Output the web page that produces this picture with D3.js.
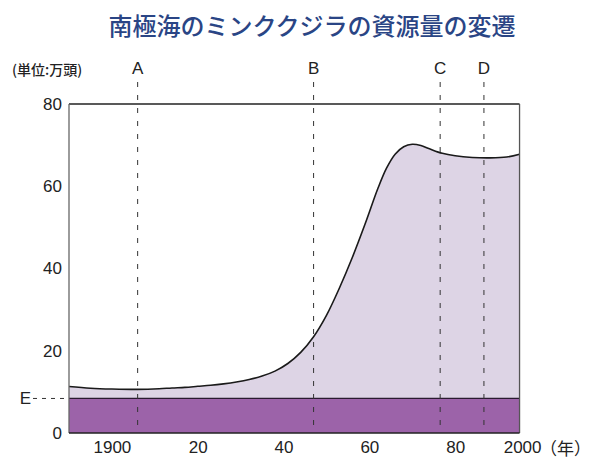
<!DOCTYPE html>
<html>
<head>
<meta charset="utf-8">
<script src="https://cdn.jsdelivr.net/npm/d3@7"></script>
<style>
  html, body { margin: 0; padding: 0; background: #fff; }
  svg { display: block; }
  text { font-family: "Liberation Sans", "Noto Sans", sans-serif; fill: #222; }
  .jp { font-family: "Noto Sans CJK JP", "Noto Sans", sans-serif; }
</style>
</head>
<body>
<svg id="chart" width="601" height="459"></svg>
<script>
// Minke whale stock in the Southern Ocean (10,000 head)
const years  = [1890, 1895, 1900, 1906, 1911, 1914, 1917, 1920, 1923, 1926, 1929, 1932, 1935, 1938, 1941, 1944, 1947, 1950, 1953, 1956, 1959, 1962, 1964, 1966, 1968, 1970, 1972, 1974, 1977, 1980, 1984, 1988, 1992, 1995];
const stock  = [11.3, 10.9, 10.7, 10.6, 10.75, 10.95, 11.1, 11.35, 11.6, 11.95, 12.4, 13.0, 13.85, 15.05, 16.9, 19.6, 23.4, 28.6, 35.2, 42.6, 50.8, 59.5, 64.4, 67.8, 69.6, 70.2, 69.9, 69.1, 68.0, 67.4, 67.0, 66.9, 67.1, 67.8];

// Reference level E
const levelE = 8.4;

// Marked years
const markerLabels = ["A", "B", "C", "D"];
const markerYears  = [1906, 1947, 1976.5, 1986.7];

// Axis ticks
const yTicks = [0, 20, 40, 60, 80];
const xTicks = [1900, 1920, 1940, 1960, 1980, 2000];
const xTickLabels = ["1900", "20", "40", "60", "80", "2000"];

const title = "南極海のミンククジラの資源量の変遷";
const unitLabel = "(単位:万頭)";
const yearUnit = "（年）";

const svg = d3.select("#chart");

const plotLeft = 69, plotTop = 104, plotBottom = 433;
const x = d3.scaleLinear().domain([1890, 2000]).range([plotLeft, 541]);
const y = d3.scaleLinear().domain([0, 80]).range([plotBottom, plotTop]);
const xEnd = x(1995);

// Title
svg.append("text")
  .attr("class", "jp")
  .attr("x", 312).attr("y", 35)
  .attr("text-anchor", "middle")
  .attr("font-size", 24)
  .attr("font-weight", 500)
  .style("fill", "#2a4585")
  .text(title);

// Unit label
svg.append("text")
  .attr("class", "jp")
  .attr("x", 12).attr("y", 75)
  .attr("font-size", 14)
  .attr("font-weight", 500)
  .text(unitLabel);

svg.append("defs").append("clipPath").attr("id", "plot")
  .append("rect")
  .attr("x", plotLeft).attr("y", plotTop)
  .attr("width", xEnd - plotLeft).attr("height", plotBottom - plotTop);

const data = years.map((yr, i) => ({ yr, v: stock[i] }));

// Stock area
const area = d3.area()
  .x(d => x(d.yr))
  .y0(y(0))
  .y1(d => y(d.v))
  .curve(d3.curveCatmullRom.alpha(0.5));

const line = d3.line()
  .x(d => x(d.yr))
  .y(d => y(d.v))
  .curve(d3.curveCatmullRom.alpha(0.5));

const g = svg.append("g").attr("clip-path", "url(#plot)");

g.append("path")
  .datum(data)
  .attr("d", area)
  .attr("fill", "#ddd4e5");

// Band below level E
g.append("rect")
  .attr("x", plotLeft).attr("y", y(levelE))
  .attr("width", xEnd - plotLeft).attr("height", y(0) - y(levelE))
  .attr("fill", "#9c63a9");

svg.append("path")
  .datum(data)
  .attr("d", line)
  .attr("fill", "none")
  .attr("stroke", "#1a1a1a")
  .attr("stroke-width", 1.6);

// Level E line and its dashed lead-in
svg.append("line")
  .attr("x1", plotLeft).attr("x2", xEnd)
  .attr("y1", y(levelE)).attr("y2", y(levelE))
  .attr("stroke", "#2a1a30").attr("stroke-width", 1.2);
svg.append("line")
  .attr("x1", 33).attr("x2", plotLeft)
  .attr("y1", y(levelE)).attr("y2", y(levelE))
  .attr("stroke", "#333").attr("stroke-width", 1)
  .attr("stroke-dasharray", "4,5");
svg.append("text")
  .attr("x", 31).attr("y", y(levelE) + 6)
  .attr("text-anchor", "end")
  .attr("font-size", 17)
  .text("E");

// Frame
svg.append("line")
  .attr("x1", plotLeft).attr("x2", xEnd)
  .attr("y1", y(80)).attr("y2", y(80))
  .attr("stroke", "#222").attr("stroke-width", 1.3);
svg.append("line")
  .attr("x1", xEnd).attr("x2", xEnd)
  .attr("y1", y(80)).attr("y2", y(0))
  .attr("stroke", "#555").attr("stroke-width", 1.3);
svg.append("line")
  .attr("x1", plotLeft).attr("x2", plotLeft)
  .attr("y1", y(80)).attr("y2", y(0))
  .attr("stroke", "#666").attr("stroke-width", 1.3);
svg.append("line")
  .attr("x1", plotLeft).attr("x2", xEnd)
  .attr("y1", y(0)).attr("y2", y(0))
  .attr("stroke", "#222").attr("stroke-width", 1.5);

// Marker lines
markerYears.forEach((yr, i) => {
  svg.append("line")
    .attr("x1", x(yr)).attr("x2", x(yr))
    .attr("y1", 82).attr("y2", y(0))
    .attr("stroke", "#333").attr("stroke-width", 1)
    .attr("stroke-dasharray", "5,8");
  svg.append("text")
    .attr("x", x(yr)).attr("y", 74)
    .attr("text-anchor", "middle")
    .attr("font-size", 17)
    .text(markerLabels[i]);
});

// Y axis labels
const yAxis = d3.axisLeft(y).tickValues(yTicks).tickSize(0).tickPadding(7);
svg.append("g")
  .attr("transform", `translate(${plotLeft},0)`)
  .call(yAxis)
  .call(s => s.select(".domain").remove())
  .call(s => s.selectAll("text")
    .attr("font-size", 17)
    .attr("font-family", "Liberation Sans, sans-serif")
    .style("fill", "#222"));

// X axis labels
const xAxis = d3.axisBottom(x).tickValues(xTicks)
  .tickFormat((d, i) => xTickLabels[i]).tickSize(0).tickPadding(8);
svg.append("g")
  .attr("transform", `translate(0,${plotBottom})`)
  .call(xAxis)
  .call(s => s.select(".domain").remove())
  .call(s => s.selectAll("text")
    .attr("font-size", 17)
    .attr("font-family", "Liberation Sans, sans-serif")
    .style("fill", "#222"))
  .call(s => s.selectAll(".tick").filter(d => d === 2000)
    .select("text").attr("text-anchor", "end"));

svg.append("text")
  .attr("class", "jp")
  .attr("x", 540).attr("y", plotBottom + 22)
  .attr("font-size", 17)
  .text(yearUnit);
</script>
</body>
</html>
